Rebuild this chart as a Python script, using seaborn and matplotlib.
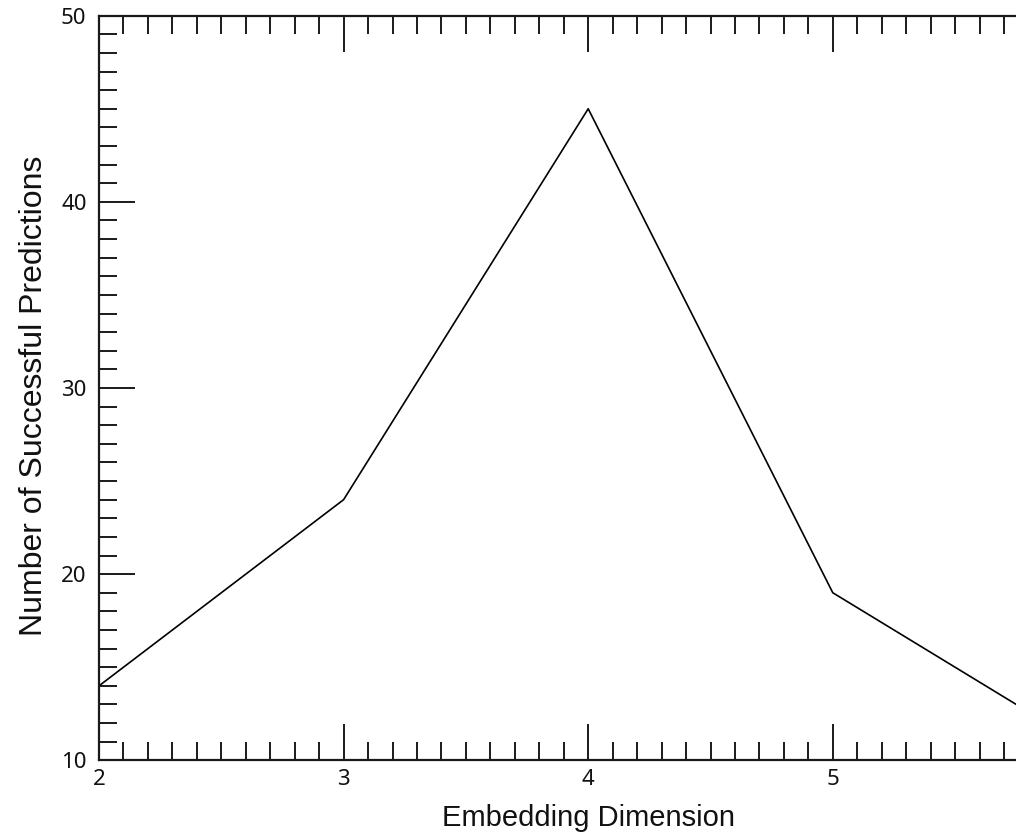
import matplotlib
matplotlib.use("Agg")
import matplotlib.pyplot as plt
import seaborn as sns
import pandas as pd
from matplotlib.ticker import MultipleLocator

# Data
embedding_dimension = [2, 3, 4, 5, 6]
successful_predictions = [14, 24, 45, 19, 11]
x_tick_labels = ["2", "3", "4", "5"]

df = pd.DataFrame({"Embedding Dimension": embedding_dimension,
                   "Number of Successful Predictions": successful_predictions})

sns.set_theme(style="ticks")
plt.rcParams['font.family'] = ['Noto Sans', 'DejaVu Sans']

fig = plt.figure(figsize=(10.16, 8.39), dpi=100)
# the original axes runs to x = 6, but the picture is cropped at x ~ 5.75
ax = fig.add_axes([99/1016, (839-760.3)/839, 4*244.6/1016, (760.3-15.7)/839])

sns.lineplot(data=df, x="Embedding Dimension", y="Number of Successful Predictions",
             ax=ax, color="black", linewidth=1.2)

ax.set_xlim(2, 6)
ax.set_ylim(10, 50)
ax.set_xticks([2, 3, 4, 5])
ax.set_xticklabels(x_tick_labels)
ax.xaxis.set_minor_locator(MultipleLocator(0.1))
ax.yaxis.set_major_locator(MultipleLocator(10))
ax.yaxis.set_minor_locator(MultipleLocator(1))

ax.tick_params(axis='both', which='both', direction='in', top=True, right=True,
               color='#1a1a1a', width=1.4)
ax.tick_params(axis='both', which='major', length=26, labelsize=16, labelcolor='#111111')
ax.tick_params(axis='both', which='minor', length=13)
ax.tick_params(axis='x', which='major', pad=6)
ax.tick_params(axis='y', which='major', pad=9)

for s in ['left', 'bottom', 'top', 'right']:
    ax.spines[s].set_linewidth(1.6)
    ax.spines[s].set_color('#1a1a1a')

ax.set_xlabel("Embedding Dimension", family=['Liberation Sans', 'DejaVu Sans'],
              fontsize=21, color='#111111', labelpad=10)
ax.set_ylabel("Number of Successful Predictions", family=['Liberation Sans', 'DejaVu Sans'],
              fontsize=23, color='#111111')
ax.yaxis.set_label_coords(-0.0507, 0.489)

fig.savefig("out.png", dpi=100)
